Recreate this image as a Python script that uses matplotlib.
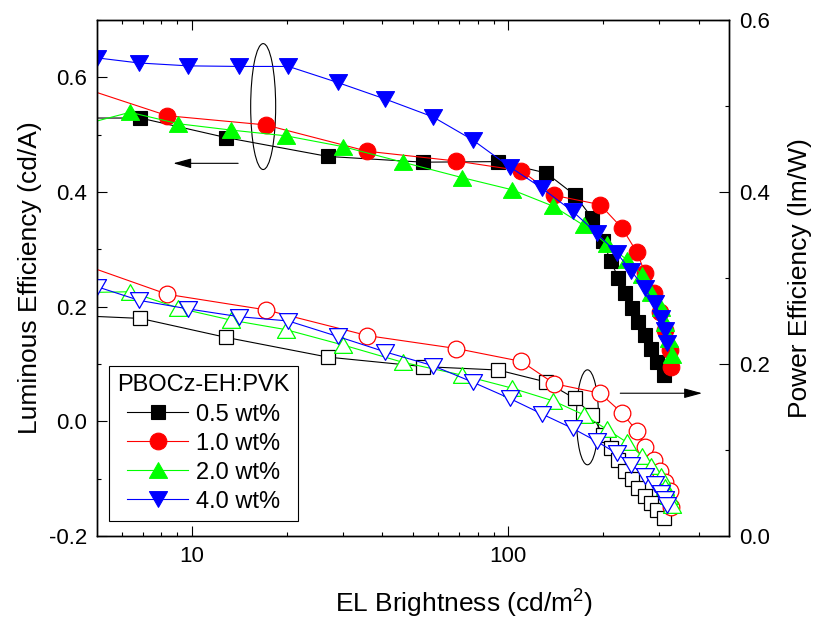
import numpy as np
from matplotlib import pyplot as plt
from matplotlib.path import Path
from matplotlib.patches import Ellipse
from matplotlib.ticker import FixedLocator, NullFormatter, FixedFormatter

# brightness (cd/m2), luminous efficiency (cd/A), power efficiency (lm/W)
x_05 = [4.5, 6.87, 12.8, 26.9, 53.8, 92.9, 132, 162, 184, 199, 211, 223, 234, 246, 257, 270, 282, 295, 310]
lum_05 = [0.529, 0.529, 0.495, 0.462, 0.452, 0.453, 0.433, 0.395, 0.355, 0.315, 0.279, 0.250, 0.223,
          0.197, 0.173, 0.150, 0.127, 0.104, 0.080]
pow_05 = [0.256, 0.253, 0.231, 0.208, 0.197, 0.193, 0.179, 0.160, 0.141, 0.118, 0.102, 0.088, 0.076,
          0.066, 0.056, 0.047, 0.038, 0.030, 0.021]

x_10 = [4.5, 8.37, 17.1, 35.9, 68.5, 110, 140, 195, 229, 255, 271, 288, 301, 314, 325, 327]
lum_10 = [0.582, 0.533, 0.517, 0.471, 0.454, 0.437, 0.394, 0.378, 0.337, 0.295, 0.258, 0.223, 0.191,
          0.159, 0.124, 0.095]
pow_10 = [0.316, 0.281, 0.263, 0.233, 0.218, 0.203, 0.177, 0.166, 0.143, 0.122, 0.104, 0.088, 0.075,
          0.063, 0.052, 0.034]

x_20 = [4.5, 6.37, 9.07, 13.3, 19.8, 30.1, 46.4, 71.6, 102.6, 139, 173, 205, 237, 265, 282, 303, 314, 322, 329]
lum_20 = [0.517, 0.539, 0.519, 0.508, 0.498, 0.479, 0.452, 0.425, 0.404, 0.375, 0.342, 0.309, 0.282,
          0.255, 0.223, 0.197, 0.171, 0.144, 0.115]
pow_20 = [0.283, 0.284, 0.265, 0.251, 0.240, 0.222, 0.202, 0.187, 0.172, 0.157, 0.141, 0.124, 0.109,
          0.093, 0.081, 0.070, 0.057, 0.046, 0.036]

x_40 = [5.0, 6.81, 9.75, 14.1, 20.2, 28.9, 40.9, 57.8, 77.1, 101, 127.6, 160, 190.5, 220, 245, 270, 290,
        305, 312, 318]
lum_40 = [0.634, 0.625, 0.620, 0.619, 0.619, 0.591, 0.562, 0.531, 0.491, 0.444, 0.407, 0.366, 0.328,
          0.294, 0.262, 0.232, 0.206, 0.180, 0.159, 0.137]
pow_40 = [0.290, 0.274, 0.264, 0.255, 0.250, 0.232, 0.214, 0.198, 0.179, 0.160, 0.142, 0.125, 0.110,
          0.096, 0.083, 0.070, 0.060, 0.050, 0.043, 0.036]

labels = ["0.5 wt%", "1.0 wt%", "2.0 wt%", "4.0 wt%"]
colors = ["black", "red", "#00ff00", "blue"]

# Origin-like triangles: wider than tall, centred on their bounding box
tri_up = Path([(-1, -0.87), (1, -0.87), (0, 0.87), (-1, -0.87)], closed=True)
tri_down = Path([(-1, 0.87), (1, 0.87), (0, -0.87), (-1, 0.87)], closed=True)
markers = [("s", 10.5), ("o", 12), (tri_up, 13), (tri_down, 13)]


def ring(ax, x, y, w, h):
    # ellipse centred on a data point, sized in axes fraction
    cx, cy = (ax.transScale + ax.transLimits).transform((x, y))
    ax.add_patch(Ellipse((cx, cy), w, h, transform=ax.transAxes, fill=False, ec="k", lw=0.8))


def main():
    plt.rcParams["font.family"] = ["Liberation Sans", "DejaVu Sans"]
    plt.rcParams["mathtext.fontset"] = "custom"
    plt.rcParams["mathtext.rm"] = "Liberation Sans"
    plt.rcParams["font.size"] = 16

    fig = plt.figure(figsize=(8.22, 6.21), dpi=100)
    ax = fig.add_axes([0.1176, 0.1369, 0.7697, 0.8309])
    ax2 = ax.twinx()

    xs = [x_05, x_10, x_20, x_40]
    lums = [lum_05, lum_10, lum_20, lum_40]
    pows = [pow_05, pow_10, pow_20, pow_40]

    handles = []
    for x, lum, pw, c, (m, ms), lab in zip(xs, lums, pows, colors, markers, labels):
        h, = ax.plot(x, lum, color=c, lw=0.8, marker=m, ms=ms, mfc=c, mec=c, mew=0.8, label=lab)
        ax2.plot(x, pw, color=c, lw=0.8, marker=m, ms=ms, mfc="white", mec=c, mew=0.9)
        handles.append(h)

    ax.set_xscale("log")
    ax.set_xlim(5, 500)
    ax.set_ylim(-0.2, 0.7)
    ax2.set_ylim(0, 0.6)

    ax.xaxis.set_major_locator(FixedLocator([10, 100]))
    ax.xaxis.set_major_formatter(FixedFormatter(["10", "100"]))
    ax.xaxis.set_minor_locator(FixedLocator([6, 7, 8, 9, 20, 30, 40, 50, 60, 70, 80, 90, 200, 300, 400]))
    ax.xaxis.set_minor_formatter(NullFormatter())
    ax.set_yticks(np.arange(-0.2, 0.61, 0.2))
    ax.set_yticks(np.arange(-0.2, 0.71, 0.1), minor=True)
    ax.set_yticklabels(["-0.2", "0.0", "0.2", "0.4", "0.6"])
    ax2.set_yticks(np.arange(0, 0.61, 0.2))
    ax2.set_yticks(np.arange(0, 0.61, 0.1), minor=True)
    ax2.set_yticklabels(["0.0", "0.2", "0.4", "0.6"])

    ax.tick_params(which="both", direction="in", top=True, right=False, width=0.8, pad=7)
    ax.tick_params(which="major", length=7)
    ax.tick_params(which="minor", length=3)
    ax2.tick_params(which="both", direction="in", width=0.8, pad=7)
    ax2.tick_params(which="major", length=7)
    ax2.tick_params(which="minor", length=3)
    for a in (ax, ax2):
        for s in a.spines.values():
            s.set_linewidth(1.0)

    ax.set_xlabel(r"EL Brightness (cd/m$^2$)", fontsize=19, labelpad=14)
    ax.xaxis.label.set_x(0.581)
    ax.set_ylabel("Luminous Efficiency (cd/A)", fontsize=19, labelpad=5)
    ax2.set_ylabel("Power Efficiency (lm/W)", fontsize=19, labelpad=13)

    # group markers and arrows pointing to each axis
    ring(ax, 16.8, 0.549, 0.0395, 0.244)
    ax.annotate("", xy=(8.73, 0.45), xytext=(14.0, 0.45),
                arrowprops=dict(arrowstyle="-|>,head_length=0.55,head_width=0.15", color="k", lw=0.8,
                                mutation_scale=20, shrinkA=0, shrinkB=0))
    ring(ax2, 178, 0.138, 0.0348, 0.184)
    ax2.annotate("", xy=(410, 0.166), xytext=(226, 0.166),
                 arrowprops=dict(arrowstyle="-|>,head_length=0.55,head_width=0.15", color="k", lw=0.8,
                                 mutation_scale=20, shrinkA=0, shrinkB=0))

    leg = ax2.legend(handles=handles, title="PBOCz-EH:PVK", loc="lower left",
                     bbox_to_anchor=(0.0194, 0.029), borderaxespad=0, fontsize=17, title_fontsize=17,
                     fancybox=False, framealpha=1, edgecolor="k", handlelength=2.6, handletextpad=0.3,
                     labelspacing=0.3, borderpad=0.35)
    leg.get_frame().set_linewidth(0.8)

    plt.savefig("out.png", dpi=100)


if __name__ == "__main__":
    main()
